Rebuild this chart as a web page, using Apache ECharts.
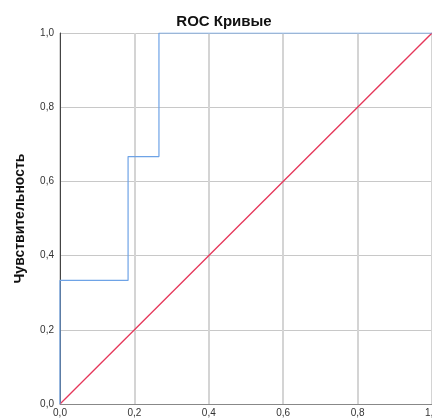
<!DOCTYPE html>
<html>
<head>
<meta charset="utf-8">
<script src="https://cdn.jsdelivr.net/npm/echarts@6/dist/echarts.min.js"></script>
<style>
  html, body { margin: 0; padding: 0; background: #fff; }
  #chart { width: 432px; height: 419px; }
</style>
</head>
<body>
<div id="chart"></div>
<script>
// ROC curve: (1 - specificity, sensitivity) pairs along the staircase
const rocFpr = [0.0, 0.0, 0.183, 0.183, 0.266, 0.266, 1.0];
const rocTpr = [0.0, 0.333, 0.333, 0.667, 0.667, 1.0, 1.0];
// Reference diagonal
const refFpr = [0.0, 1.0];
const refTpr = [0.0, 1.0];
const tickValues = [0.0, 0.2, 0.4, 0.6, 0.8, 1.0];

const chart = echarts.init(document.getElementById('chart'), null, { renderer: 'canvas' });
const fmt = v => v.toFixed(1).replace('.', ',');

chart.setOption({
  animation: false,
  backgroundColor: '#ffffff',
  title: {
    text: 'ROC Кривые',
    left: 219, top: 9, textAlign: 'center',
    textStyle: { fontFamily: 'Liberation Sans, Arial', fontSize: 15, fontWeight: 'bold', color: '#111' }
  },
  grid: { left: 60, right: 0, top: 33, bottom: 15, containLabel: false, outerBoundsMode: 'none' },
  xAxis: {
    type: 'value', min: 0, max: 1, interval: 0.2,
    axisLine: { show: true, lineStyle: { color: '#888', width: 1 } },
    axisTick: { show: false },
    axisLabel: { formatter: fmt, color: '#333', fontFamily: 'Liberation Sans, Arial', fontSize: 10, margin: 4, hideOverlap: false },
    splitLine: { show: true, lineStyle: { color: '#d4d4d4', width: 2 } }
  },
  yAxis: {
    type: 'value', min: 0, max: 1, interval: 0.2,
    name: 'Чувствительность', nameLocation: 'middle', nameGap: 33,
    nameTextStyle: { fontFamily: 'Liberation Sans, Arial', fontSize: 14, fontWeight: 'bold', color: '#111' },
    axisLine: { show: true, lineStyle: { color: '#444', width: 1 } },
    axisTick: { show: false },
    axisLabel: { formatter: fmt, color: '#333', fontFamily: 'Liberation Sans, Arial', fontSize: 10, margin: 6 },
    splitLine: { show: true, lineStyle: { color: '#c8c8c8', width: 1 } }
  },
  series: [
    {
      type: 'line',
      data: refFpr.map((x, i) => [x, refTpr[i]]),
      symbol: 'none',
      lineStyle: { color: '#e5375a', width: 1.3 },
      z: 3
    },
    {
      type: 'line',
      data: rocFpr.map((x, i) => [x, rocTpr[i]]),
      symbol: 'none',
      lineStyle: { color: '#6ea3e6', width: 1.2 },
      z: 4
    }
  ]
});
</script>
</body>
</html>
